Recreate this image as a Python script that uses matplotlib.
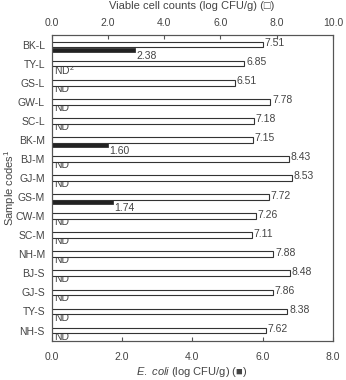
import numpy as np
import matplotlib
matplotlib.use('Agg')
import matplotlib.pyplot as plt
from matplotlib.ticker import FormatStrFormatter

plt.rcParams['font.family'] = ['Liberation Sans', 'DejaVu Sans']
plt.rcParams['mathtext.fontset'] = 'custom'
plt.rcParams['mathtext.it'] = 'Liberation Sans:italic'
plt.rcParams['mathtext.rm'] = 'Liberation Sans'

samples = ['BK-L', 'TY-L', 'GS-L', 'GW-L', 'SC-L', 'BK-M', 'BJ-M', 'GJ-M',
           'GS-M', 'CW-M', 'SC-M', 'NH-M', 'BJ-S', 'GJ-S', 'TY-S', 'NH-S']
viable = [7.51, 6.85, 6.51, 7.78, 7.18, 7.15, 8.43, 8.53,
          7.72, 7.26, 7.11, 7.88, 8.48, 7.86, 8.38, 7.62]
# None = not detected
ecoli = [2.38, None, None, None, None, 1.60, None, None,
         1.74, None, None, None, None, None, None, None]

txt = '#444444'
fs = 7.5

fig = plt.figure(figsize=(3.46, 3.80), dpi=100)
ax = fig.add_axes([0.150, 0.1026, 0.812, 0.8053])
ax2 = ax.twiny()

y = np.arange(len(samples))
off = 0.27

# E. coli on the bottom axis (0-8)
ec_vals = [v if v is not None else 0 for v in ecoli]
ax.barh(y + off, ec_vals, height=0.22, color='#222222', edgecolor='#333333', linewidth=0.6)
for i, v in enumerate(ecoli):
    if v is None:
        lab = 'ND$^2$' if i == 1 else 'ND'
        ax.text(0.07, y[i] + off + 0.05, lab, fontsize=fs, color=txt, va='center', ha='left')
    else:
        ax.text(v + 0.03, y[i] + off + 0.32, '%.2f' % v, fontsize=fs, color=txt, va='center', ha='left')

# viable counts on the top axis (0-10)
ax2.barh(y, viable, height=0.3, color='white', edgecolor='#333333', linewidth=0.8)
for i, v in enumerate(viable):
    ax2.text(v + 0.06, y[i] - 0.08, '%.2f' % v, fontsize=fs, color=txt, va='center', ha='left')

ax.set_xlim(0, 8)
ax2.set_xlim(0, 10)
ax.set_ylim(15.55, -0.5)
ax.set_yticks(y)
ax.set_yticklabels(samples)
ax.set_xticks(np.arange(0, 8.1, 2))
ax2.set_xticks(np.arange(0, 10.1, 2))
ax.xaxis.set_major_formatter(FormatStrFormatter('%.1f'))
ax2.xaxis.set_major_formatter(FormatStrFormatter('%.1f'))

ax.tick_params(axis='x', direction='in', length=3, color='#555555', labelsize=fs, labelcolor=txt, pad=8)
ax2.tick_params(axis='x', direction='in', length=3, color='#555555', labelsize=fs, labelcolor=txt, pad=5)
ax.tick_params(axis='y', length=0, labelsize=fs, labelcolor=txt, pad=5)

for a in (ax, ax2):
    for s in a.spines.values():
        s.set_color('#555555')
        s.set_linewidth(0.8)

ax.set_xlabel(r'$\mathit{E.\ coli}$ (log CFU/g) (■)', fontsize=fs + 0.5, color=txt, va='center')
ax.xaxis.set_label_coords(0.498, -0.101)
ax2.set_xlabel('Viable cell counts (log CFU/g) (□)', fontsize=fs + 0.5, color=txt, va='center')
ax2.xaxis.set_label_coords(0.498, 1.095)
ax.set_ylabel('Sample codes$^1$', fontsize=fs + 0.5, color=txt, va='center')
ax.yaxis.set_label_coords(-0.149, 0.5)

plt.savefig('out.png', dpi=100)
